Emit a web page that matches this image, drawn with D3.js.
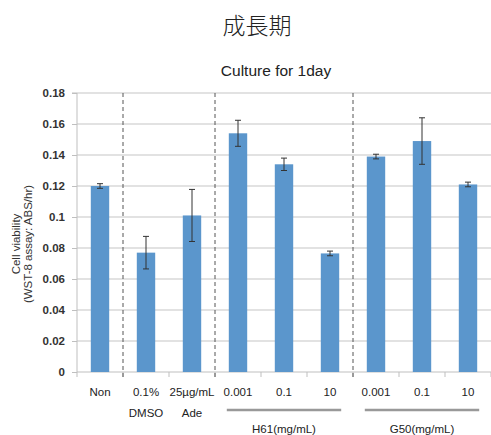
<!DOCTYPE html>
<html><head><meta charset="utf-8">
<script src="https://cdn.jsdelivr.net/npm/d3@7"></script>
<style>body{margin:0;background:#fff}svg{display:block}</style>
</head><body>
<svg id="c" width="491" height="435"></svg>
<script>
const categories = ["Non","0.1%\nDMSO","25\u00b5g/mL\nAde","0.001","0.1","10","0.001","0.1","10"];
const values = [0.120,0.077,0.101,0.154,0.134,0.0765,0.139,0.149,0.121];
const errors = [0.0015,0.0105,0.0168,0.0084,0.004,0.0015,0.0015,0.015,0.0015];
const yTicks = [0,0.02,0.04,0.06,0.08,0.1,0.12,0.14,0.16,0.18];
const dividers = [1,3,6]; // category index before which a dashed divider is drawn
const groups = [{label:"H61(mg/mL)",from:3,to:5},{label:"G50(mg/mL)",from:6,to:8}];

const svg = d3.select("#c");
const L=77,R=491,T=93,B=372;
const x = d3.scaleBand().domain(d3.range(categories.length)).range([L,R]).paddingInner(0.6).paddingOuter(0.3);
const y = d3.scaleLinear().domain([0,0.18]).range([B,T]);
const step = x.step();
const cx = i => x(i)+x.bandwidth()/2;
const font = "'Liberation Sans',Arial,sans-serif";
const x0 = x(0)-step*x.paddingOuter();

// gridlines
svg.append("g").selectAll("line").data(yTicks.filter(d=>d>0)).join("line")
  .attr("x1",L).attr("x2",R).attr("y1",d=>y(d)).attr("y2",d=>y(d))
  .attr("stroke","#d9d9d9").attr("stroke-width",1.5);

// y axis
const ya = svg.append("g").attr("transform",`translate(${L},0)`)
  .call(d3.axisLeft(y).tickValues(yTicks).tickFormat(d=>d===0?"0":String(+d.toFixed(2))).tickSize(5).tickPadding(7));
ya.select(".domain").attr("stroke","#bfbfbf").attr("d",`M-5,${T}H0V${B}`);
ya.selectAll(".tick line").attr("stroke","#bfbfbf");
ya.selectAll("text").attr("font-family",font).attr("font-size",11.5).attr("font-weight","bold").attr("fill","#333");

// x axis
svg.append("line").attr("x1",L).attr("x2",R).attr("y1",B).attr("y2",B).attr("stroke","#bfbfbf").attr("stroke-width",1.2);
svg.append("g").selectAll("line").data(d3.range(categories.length+1)).join("line")
  .attr("x1",i=>x0+i*step).attr("x2",i=>x0+i*step)
  .attr("y1",B).attr("y2",B+5).attr("stroke","#bfbfbf");

// dashed dividers
svg.append("g").selectAll("line").data(dividers).join("line")
  .attr("x1",i=>x(i)-step*x.paddingInner()/2).attr("x2",i=>x(i)-step*x.paddingInner()/2)
  .attr("y1",T).attr("y2",B+5).attr("stroke","#555").attr("stroke-width",1).attr("stroke-dasharray","4,3");

// bars
svg.append("g").selectAll("rect").data(values).join("rect")
  .attr("x",(d,i)=>x(i)).attr("width",x.bandwidth()).attr("y",d=>y(d)).attr("height",d=>B-y(d))
  .attr("fill","#5b96cc");

// error bars
const eg = svg.append("g").attr("stroke","#333").attr("stroke-width",1);
values.forEach((v,i)=>{
  const c=cx(i), t=y(v+errors[i]), b=y(v-errors[i]);
  eg.append("line").attr("x1",c).attr("x2",c).attr("y1",t).attr("y2",b);
  eg.append("line").attr("x1",c-3).attr("x2",c+3).attr("y1",t).attr("y2",t);
  eg.append("line").attr("x1",c-3).attr("x2",c+3).attr("y1",b).attr("y2",b);
});

// category labels
const lab = svg.append("g").attr("font-family",font).attr("font-size",11.5).attr("fill","#222").attr("text-anchor","middle");
categories.forEach((c,i)=>{
  c.split("\n").forEach((s,k)=>{
    lab.append("text").attr("x",cx(i)).attr("y",396+k*21).text(s);
  });
});

// group underlines & labels
groups.forEach(g=>{
  const x1=x(g.from)-2, x2=x(g.to)+x.bandwidth()+2;
  svg.append("line").attr("x1",x1).attr("x2",x2).attr("y1",410).attr("y2",410).attr("stroke","#999").attr("stroke-width",2.5);
  lab.append("text").attr("x",(x1+x2)/2).attr("y",433).text(g.label);
});

// y title
const yt = svg.append("text").attr("font-family",font).attr("font-size",11.5).attr("fill","#333")
  .attr("text-anchor","middle").attr("transform","translate(20,244) rotate(-90)");
yt.append("tspan").attr("x",0).attr("dy",0).text("Cell viability");
yt.append("tspan").attr("x",0).attr("dy",12).text("(WST-8 assay: ABS/hr)");

// titles
svg.append("text").attr("x",257).attr("y",34).attr("text-anchor","middle")
  .attr("font-family","'Noto Sans CJK JP','Noto Sans CJK SC',sans-serif").attr("font-weight",300).attr("font-size",23).attr("fill","#222").text("成長期");
svg.append("text").attr("x",276).attr("y",76).attr("text-anchor","middle")
  .attr("font-family",font).attr("font-size",15.5).attr("fill","#222").text("Culture for 1day");
</script>
</body></html>
